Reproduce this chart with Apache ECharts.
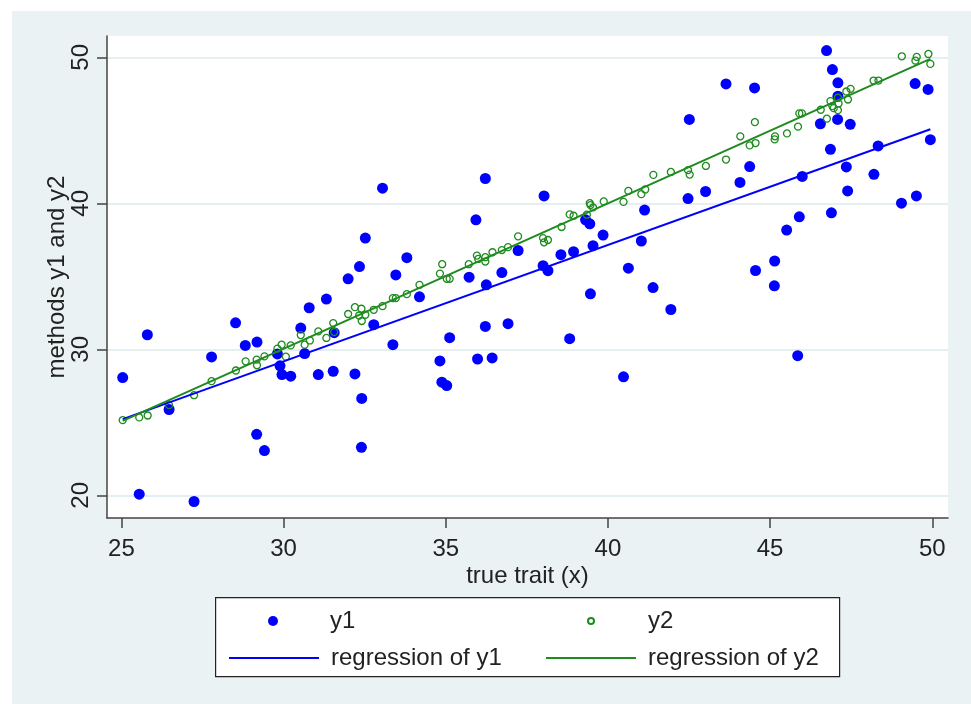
<!DOCTYPE html>
<html>
<head>
<meta charset="utf-8">
<script src="https://cdn.jsdelivr.net/npm/echarts@6/dist/echarts.min.js"></script>
<style>
html,body{margin:0;padding:0;background:#fff;}
#chart{width:971px;height:704px;}
</style>
</head>
<body>
<div id="chart"></div>
<script>
var y1Points = [[25.04,28.07],[25.55,20.08],[25.80,31.00],[26.47,25.88],[27.24,19.58],[27.78,29.48],[28.52,31.82],[28.82,30.27],[29.17,24.18],[29.18,30.50],
	[29.41,23.07],[29.81,29.69],[29.89,28.87],[29.95,28.27],[30.22,28.16],[30.53,31.46],[30.65,29.71],[30.79,32.85],[31.07,28.27],[31.32,33.44],
	[31.53,28.50],[31.56,31.14],[31.99,34.83],[32.20,28.32],[32.34,35.67],[32.40,23.29],[32.41,26.64],[32.52,37.62],[32.78,31.69],[33.05,41.04],
	[33.37,30.32],[33.46,35.10],[33.80,36.28],[34.19,33.60],[34.82,29.21],[34.88,27.75],[35.03,27.52],[35.12,30.80],[35.72,34.94],[35.93,38.87],
	[35.98,29.34],[36.22,41.70],[36.22,31.57],[36.25,34.42],[36.43,29.41],[36.73,35.26],[36.92,31.76],[37.23,36.77],[38.00,35.73],[38.03,40.51],
	[38.15,35.39],[38.55,36.48],[38.82,30.73],[38.94,36.69],[39.31,38.87],[39.44,38.60],[39.46,33.80],[39.54,37.10],[39.85,37.83],[40.48,28.12],
	[40.63,35.56],[41.03,37.42],[41.13,39.54],[41.39,34.23],[41.94,32.73],[42.47,40.33],[42.51,45.75],[43.01,40.81],[43.64,48.18],[44.07,41.43],
	[44.37,42.52],[44.52,47.90],[44.55,35.40],[45.13,34.35],[45.14,36.05],[45.51,38.17],[45.85,29.57],[45.90,39.08],[45.99,41.84],[46.55,45.45],
	[46.74,50.46],[46.86,43.70],[46.89,39.35],[46.92,49.16],[47.08,45.75],[47.09,48.25],[47.09,47.34],[47.35,42.49],[47.39,40.85],[47.47,45.41],
	[48.20,41.99],[48.33,43.93],[49.05,40.01],[49.47,48.20],[49.51,40.51],[49.87,47.80],[49.94,44.36]];

var y2Points = [[25.04,25.15],[25.55,25.34],[25.81,25.47],[26.47,26.18],[27.24,26.86],[27.78,27.82],[28.53,28.55],[28.83,29.18],[29.17,29.30],[29.18,28.91],
	[29.41,29.52],[29.81,30.05],[29.94,30.32],[30.07,29.50],[30.22,30.27],[30.53,30.98],[30.65,30.32],[30.81,30.61],[31.07,31.23],[31.32,30.78],
	[31.53,31.80],[31.56,31.19],[31.99,32.42],[32.20,32.89],[32.33,32.32],[32.40,32.78],[32.41,31.94],[32.52,32.37],[32.78,32.71],[33.05,32.96],
	[33.37,33.51],[33.46,33.51],[33.80,33.78],[34.19,34.42],[34.82,35.19],[34.89,35.83],[35.03,34.83],[35.12,34.83],[35.71,35.83],[35.96,36.42],
	[36.00,36.19],[36.22,36.31],[36.22,36.01],[36.44,36.65],[36.73,36.80],[36.92,37.00],[37.23,37.74],[38.00,37.62],[38.03,37.33],[38.15,37.49],
	[38.57,38.38],[38.82,39.24],[38.94,39.15],[39.35,39.22],[39.44,40.01],[39.46,39.88],[39.54,39.72],[39.87,40.13],[40.48,40.10],[40.63,40.85],
	[41.03,40.63],[41.15,40.95],[41.40,41.95],[41.94,42.15],[42.47,42.27],[42.52,41.97],[43.02,42.56],[43.64,43.00],[44.08,44.59],[44.37,43.97],
	[44.53,45.56],[44.55,44.13],[45.14,44.38],[45.15,44.59],[45.52,44.79],[45.86,45.25],[45.90,46.16],[45.98,46.16],[46.56,46.41],[46.75,45.80],
	[46.86,47.00],[46.92,46.66],[46.96,46.52],[47.09,47.23],[47.09,46.38],[47.11,46.84],[47.35,47.66],[47.40,47.11],[47.48,47.84],[48.19,48.41],
	[48.34,48.41],[49.06,50.07],[49.48,49.77],[49.52,50.03],[49.88,50.23],[49.94,49.55]];

// end points of the two fitted lines
var fit1 = [[25.04,25.22],[49.94,45.07]];
var fit2 = [[25.04,25.10],[49.94,49.89]];

var xTicks = [25,30,35,40,45,50];
var yTicks = [20,30,40,50];

var FONT = '"Liberation Sans", Arial, sans-serif';
var BLUE = '#0000ff';
var GREEN = '#1e8b1e';
var TXT = '#222';
var KEYW = 90; // width of a key symbol slot

// one legend per key cell (stata's 2 column key).
// a lone dot has no full width icon, so the legend box starts at the dot:
// move it by half the empty slot to keep the text in the column
function keyItem(name, col, top, h, dotOnly, extra){
	return {
		left: dotOnly ? col + (KEYW - h) / 2 : col,
		top:top, padding:0, orient:'vertical',
		itemWidth:KEYW, itemHeight:h, z:5, selectedMode:false,
		textStyle:{fontSize:24,color:TXT,fontFamily:FONT,padding:[0,0,0,7]},
		data:[Object.assign({name:name}, extra || {})]
	};
}

var myChart = echarts.init(document.getElementById('chart'));
var option = {
	animation:false,
	backgroundColor:'#ffffff',
	textStyle:{fontFamily:FONT},
	graphic:[
		// stata bluish-gray frame
		{type:'rect',left:12,top:11,z:-100,silent:true,
			shape:{width:959,height:693},style:{fill:'#eaf2f3'}},
		// legend box
		{type:'rect',left:215,top:597,z:2,silent:true,
			shape:{width:624,height:79},style:{fill:'#ffffff',stroke:'#222',lineWidth:1.2}}
	],
	grid:{left:107,right:23,top:36,bottom:186,show:true,backgroundColor:'#ffffff',borderWidth:0},
	xAxis:{
		type:'value',min:24.556,max:50.484,
		name:'true trait (x)',nameLocation:'middle',nameGap:46,nameMoveOverlap:false,
		nameTextStyle:{fontSize:24,color:TXT,fontFamily:FONT},
		axisLine:{onZero:false,lineStyle:{color:'#444',width:1.5}},
		axisTick:{show:true,length:10,lineStyle:{color:'#444',width:1.5},customValues:xTicks},
		axisLabel:{fontSize:24,color:TXT,margin:19,customValues:xTicks,fontFamily:FONT},
		splitLine:{show:false}
	},
	yAxis:{
		type:'value',min:18.45,max:51.46,
		name:'methods y1 and y2',nameLocation:'middle',nameGap:38,nameMoveOverlap:false,
		nameTextStyle:{fontSize:24,color:TXT,fontFamily:FONT},
		axisLine:{show:true,onZero:false,lineStyle:{color:'#444',width:1.5}},
		axisTick:{show:true,length:10,lineStyle:{color:'#444',width:1.5},customValues:yTicks},
		axisLabel:{fontSize:24,color:TXT,margin:14,rotate:90,customValues:yTicks,fontFamily:FONT},
		splitLine:{show:true,lineStyle:{color:'#dde9ec',width:1.5}}
	},
	legend:[
		keyItem('y1', 228, 609, 10, true),
		keyItem('y2', 545, 609, 6, true),
		keyItem('regression of y1', 228, 646, 10, false, {itemStyle:{opacity:0}}),
		keyItem('regression of y2', 545, 646, 10, false, {itemStyle:{opacity:0}})
	],
	series:[
		{name:'y1',type:'scatter',data:y1Points,symbol:'circle',symbolSize:11,
			itemStyle:{color:BLUE,opacity:1}},
		{name:'y2',type:'scatter',data:y2Points,symbol:'circle',symbolSize:7,
			itemStyle:{color:'rgba(0,0,0,0)',borderColor:GREEN,borderWidth:1.3,opacity:1}},
		{name:'regression of y1',type:'line',data:fit1,symbol:'none',
			lineStyle:{color:BLUE,width:2},itemStyle:{color:BLUE,opacity:0}},
		{name:'regression of y2',type:'line',data:fit2,symbol:'none',
			lineStyle:{color:GREEN,width:2},itemStyle:{color:GREEN,opacity:0}}
	]
};
myChart.setOption(option);
</script>
</body>
</html>
